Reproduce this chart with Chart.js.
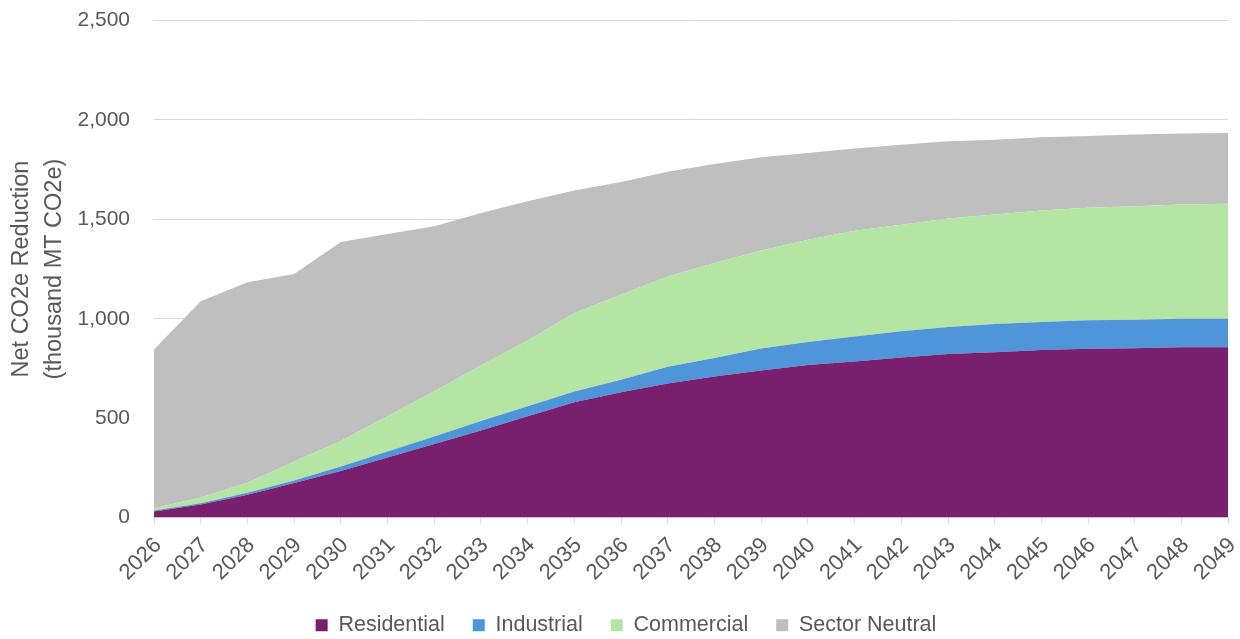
<!DOCTYPE html>
<html>
<head>
<meta charset="utf-8">
<title>Net CO2e Reduction by sector</title>
<script src="https://cdn.jsdelivr.net/npm/chart.js@4.4.1/dist/chart.umd.min.js"></script>
<style>
  html, body { margin: 0; padding: 0; background: #fff; overflow: hidden; }
  #wrap { width: 1240px; height: 639px; overflow: hidden; }
  /* canvas is a bit larger than the window so the plot area lands where the original has it */
  #chart { display: block; margin-top: -16px; }
</style>
</head>
<body>
<div id="wrap"><canvas id="chart" width="1256" height="662"></canvas></div>
<script>
  // years on the x axis
  var years = ['2026', '2027', '2028', '2029', '2030', '2031', '2032', '2033', '2034', '2035', '2036', '2037',
               '2038', '2039', '2040', '2041', '2042', '2043', '2044', '2045', '2046', '2047', '2048', '2049'];

  // thousand MT CO2e, per sector (stacked)
  var residential = [30, 65, 114, 173, 234, 302, 370, 438, 510, 580, 630, 674,
                     710, 739, 767, 785, 805, 822, 832, 843, 849, 852, 857, 857];
  var industrial = [5, 7, 10, 13, 23, 30, 38, 47, 50, 54, 63, 84,
                    93, 111, 116, 126, 132, 136, 141, 140, 143, 143, 143, 143];
  var commercial = [11, 28, 51, 96, 128, 178, 227, 280, 330, 395, 428, 455,
                    478, 493, 515, 532, 536, 546, 551, 561, 566, 571, 575, 578];
  var sectorNeutral = [799, 988, 1008, 943, 1001, 916, 830, 767, 701, 616, 567, 526,
                       498, 470, 436, 414, 403, 389, 377, 369, 362, 361, 357, 357];

  var yTicks = [0, 500, 1000, 1500, 2000, 2500];

  var FONT = "'Liberation Sans', Arial, sans-serif";
  var TEXT = '#595959';
  var GRID = '#d9d9d9';

  function area(label, data, color, fill) {
    return {
      label: label,
      data: data,
      backgroundColor: color,
      borderColor: color,
      borderWidth: 0,
      pointRadius: 0,
      fill: fill,
      tension: 0
    };
  }

  new Chart(document.getElementById('chart'), {
    type: 'line',
    data: {
      labels: years,
      datasets: [
        area('Residential', residential, '#78206e', 'origin'),
        area('Industrial', industrial, '#4e95d9', '-1'),
        area('Commercial', commercial, '#b4e5a2', '-1'),
        area('Sector Neutral', sectorNeutral, '#bfbfbf', '-1')
      ]
    },
    options: {
      responsive: false,
      animation: false,
      layout: { padding: { top: 0, right: 4, left: 0, bottom: 0 } },
      scales: {
        x: {
          offset: false,
          grid: { drawOnChartArea: false, color: GRID, tickLength: 6 },
          border: { color: GRID },
          ticks: {
            autoSkip: false, minRotation: 45, maxRotation: 45,
            color: TEXT, font: { family: FONT, size: 22 }, padding: 9, labelOffset: 4
          },
          afterFit: function (scale) { scale.height = 69; }
        },
        y: {
          stacked: true,
          min: 0,
          max: 2500,
          afterBuildTicks: function (scale) {
            scale.ticks = yTicks.map(function (v) { return { value: v }; });
          },
          grid: { color: GRID, drawTicks: false },
          border: { display: false },
          ticks: {
            color: TEXT, font: { family: FONT, size: 21 }, padding: 24,
            callback: function (v) { return v.toLocaleString('en-US'); }
          },
          title: {
            display: true,
            text: ['Net CO2e Reduction', '(thousand MT CO2e)'],
            color: TEXT,
            font: { family: FONT, size: 23.5, weight: 'normal', lineHeight: 1.4 },
            padding: { top: 5, bottom: 0 }
          },
          afterFit: function (scale) { scale.width = 154; }
        }
      },
      plugins: {
        legend: {
          position: 'bottom',
          labels: {
            color: TEXT,
            font: { family: FONT, size: 21.5 },
            boxWidth: 12, boxHeight: 12, padding: 28
          }
        },
        tooltip: { enabled: false }
      }
    }
  });
</script>
</body>
</html>
